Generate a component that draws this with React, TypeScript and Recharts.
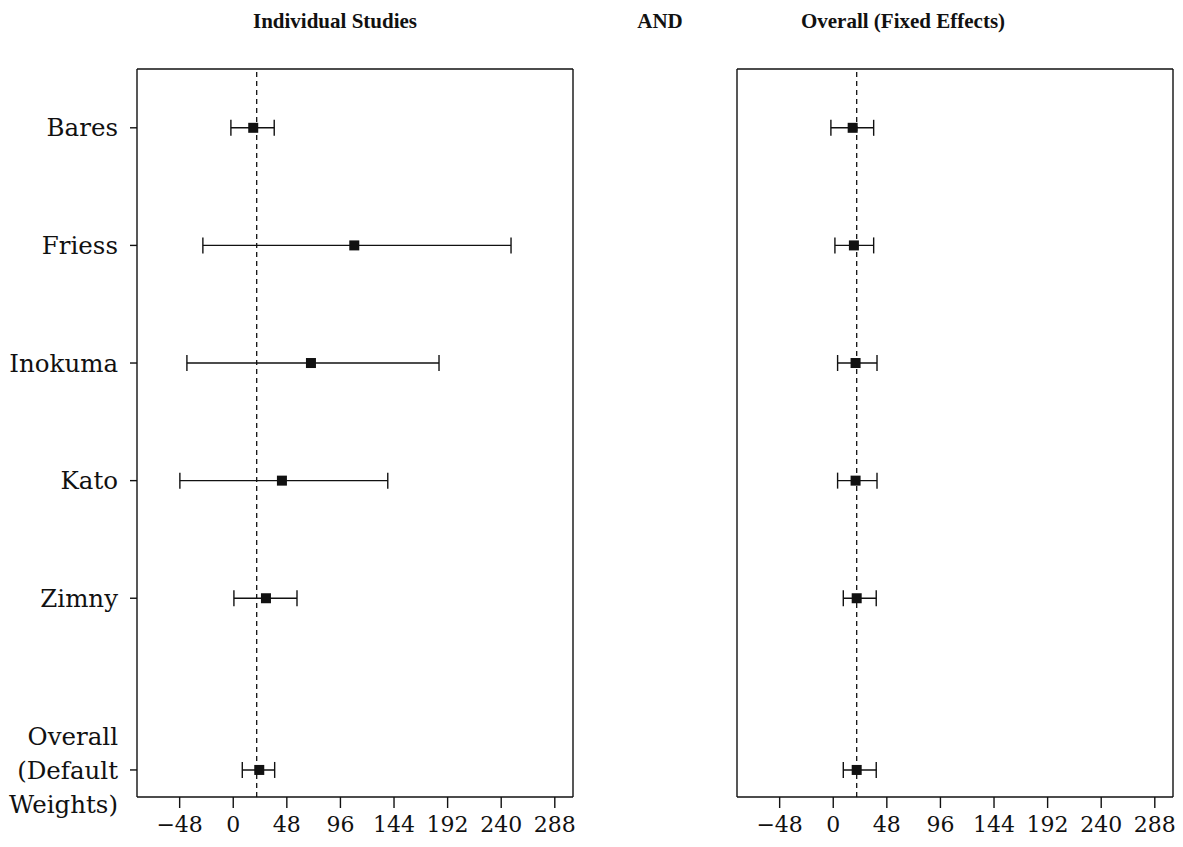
import {
  ScatterChart,
  Scatter,
  XAxis,
  YAxis,
  ErrorBar,
  ReferenceLine,
} from "recharts";

// study rows, top to bottom; Overall sits a bit lower than the even spacing
const studies = ["Bares", "Friess", "Inokuma", "Kato", "Zimny", "Overall\n(Default\nWeights)"];
const rowPos = [0, 1, 2, 3, 4, 5.46];

// left panel: individual estimates with 95% CI
const indivEst = [17.9, 108.4, 69.6, 43.6, 29.3, 23.3];
const indivLo = [-2.1, -27.2, -41.5, -47.8, 0.6, 8.1];
const indivHi = [36.7, 248.8, 184.3, 138.4, 57.1, 37.1];

// right panel: fixed effects
const fixedEst = [17.4, 18.5, 20.0, 20.0, 21.0, 21.0];
const fixedLo = [-2.1, 1.5, 3.9, 3.9, 9.0, 9.0];
const fixedHi = [36.2, 36.2, 39.2, 39.2, 38.5, 38.5];

const pooled = 21;
const xTicks = [-48, 0, 48, 96, 144, 192, 240, 288];
const xDomain: [number, number] = [-86.2, 304.3];
const yDomain: [number, number] = [-0.5, 5.69];

const FONT = "'DejaVu Serif', serif";
const INK = "#111";

const rows = (est: number[], lo: number[], hi: number[]) =>
  est.map((e, i) => ({ pos: rowPos[i], est: e, err: [e - lo[i], hi[i] - e] }));

const leftData = rows(indivEst, indivLo, indivHi);
const rightData = rows(fixedEst, fixedLo, fixedHi);

const fmt = (v: number) => String(v).replace("-", "\u2212");

function StudyTick({ x, y, payload }: any) {
  const idx = rowPos.indexOf(payload.value);
  const lines = (studies[idx] ?? "").split("\n");
  return (
    <g>
      {lines.map((ln, i) => (
        <text
          key={i}
          x={x}
          y={y + (i - (lines.length - 1) / 2) * 34}
          dy="0.35em"
          textAnchor="end"
          fill={INK}
          style={{ fontFamily: FONT, fontSize: 24.5 }}
        >
          {ln}
        </text>
      ))}
    </g>
  );
}

const Square = ({ cx, cy }: any) => (
  <rect x={cx - 5} y={cy - 5} width={10} height={10} fill={INK} />
);

function Panel({ data, labels }: { data: any[]; labels: boolean }) {
  return (
    <ScatterChart
      width={583}
      height={847}
      margin={{ top: 69, right: 10, left: 0, bottom: 0 }}
    >
      <XAxis
        dataKey="est"
        type="number"
        domain={xDomain}
        allowDataOverflow
        ticks={xTicks}
        tickFormatter={fmt}
        height={50}
        tickSize={11}
        tickMargin={8}
        stroke={INK}
        strokeWidth={1.4}
        tick={{ fill: INK, fontSize: 22, fontFamily: FONT }}
      />
      <YAxis
        dataKey="pos"
        type="number"
        domain={yDomain}
        allowDataOverflow
        reversed
        ticks={labels ? rowPos : []}
        width={137}
        tickSize={labels ? 7 : 0}
        tickMargin={12}
        tick={labels ? <StudyTick /> : false}
        tickLine={labels}
        interval={0}
        stroke={INK}
        strokeWidth={1.4}
      />
      {/* box: top and right edges */}
      <ReferenceLine y={yDomain[0]} stroke={INK} strokeWidth={1.4} />
      <ReferenceLine x={xDomain[1]} stroke={INK} strokeWidth={1.4} />
      <ReferenceLine x={pooled} stroke={INK} strokeWidth={1.3} strokeDasharray="5 4" />
      <Scatter data={data} shape={<Square />} isAnimationActive={false}>
        <ErrorBar
          dataKey="err"
          direction="x"
          width={8}
          stroke={INK}
          strokeWidth={1.4}
          isAnimationActive={false}
        />
      </Scatter>
    </ScatterChart>
  );
}

const titleStyle = {
  position: "absolute" as const,
  top: 9,
  width: 400,
  textAlign: "center" as const,
  fontFamily: "'Liberation Serif', serif",
  fontWeight: "bold" as const,
  fontSize: 21,
  color: INK,
};

export default function App() {
  return (
    <div style={{ position: "absolute", left: 0, top: 0, width: 1183, height: 847, background: "#fff" }}>
      <div style={{ ...titleStyle, left: 335 - 200 }}>Individual Studies</div>
      <div style={{ ...titleStyle, left: 660 - 200 }}>AND</div>
      <div style={{ ...titleStyle, left: 903 - 200 }}>Overall (Fixed Effects)</div>
      <div style={{ position: "absolute", left: 0, top: 0 }}>
        <Panel data={leftData} labels />
      </div>
      <div style={{ position: "absolute", left: 600, top: 0 }}>
        <Panel data={rightData} labels={false} />
      </div>
    </div>
  );
}
